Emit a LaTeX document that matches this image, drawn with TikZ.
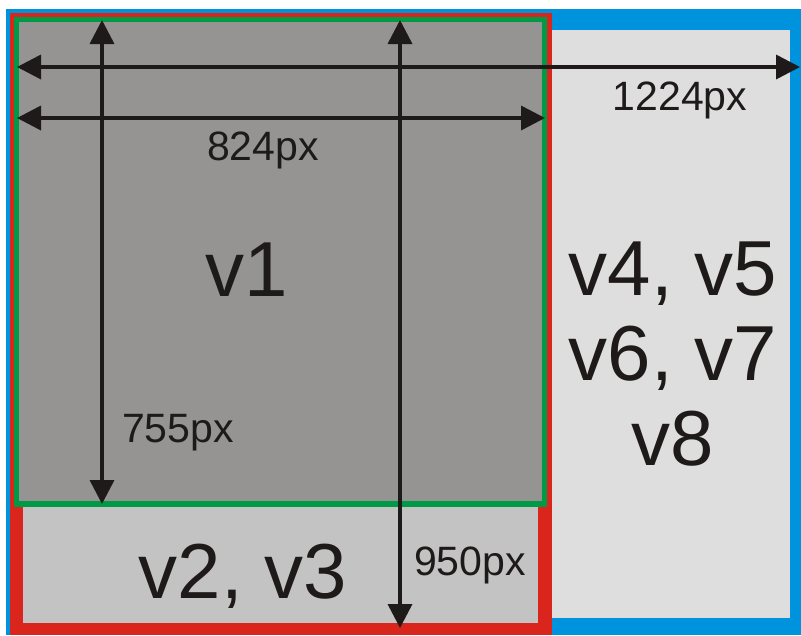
\documentclass[tikz,border=0pt]{standalone}
\usepackage{fontspec}
\setmainfont{Liberation Sans}
\usetikzlibrary{arrows.meta}
\definecolor{frameblue}{HTML}{0093DD}
\definecolor{framered}{HTML}{DA251D}
\definecolor{framegreen}{HTML}{009A46}
\definecolor{paneldark}{HTML}{959493}
\definecolor{panelmid}{HTML}{C3C3C3}
\definecolor{panellight}{HTML}{DEDEDE}
\definecolor{inkblack}{HTML}{1E1A19}

\begin{document}
\begin{tikzpicture}[
      x=1pt, y=-1pt,
      dimline/.style={<->, line width=3.6pt, draw=inkblack},
      dimlabel/.style={font=\fontsize{41}{48}\selectfont, text=inkblack, inner sep=0pt, anchor=base},
      biglabel/.style={font=\fontsize{78}{85}\selectfont, text=inkblack, inner sep=0pt, anchor=base, align=center},
      >={Triangle[length=24pt, width=24pt]},
    ]
    \useasboundingbox (0,0) rectangle (801,635);

    % blue frame and right panel
    \fill[frameblue] (6,9) rectangle (801,635);
    \fill[panellight] (552,30) rectangle (790,618);
    % red frame and lower panel
    \fill[framered] (10,13) rectangle (552,635);
    \fill[panelmid] (23,17) rectangle (538,623);
    % green frame and main panel
    \fill[framegreen] (14,17) rectangle (547,507);
    \fill[paneldark] (19,22) rectangle (542,501);

    \coordinate (fullL) at (17,67);
    \coordinate (fullR) at (800,67);
    \coordinate (mainL) at (17,118);
    \coordinate (mainR) at (545,118);
    \coordinate (mainT) at (102,20);
    \coordinate (mainB) at (102,504);
    \coordinate (fullT) at (400,20);
    \coordinate (fullB) at (400,628);

    \draw[dimline] (fullL) -- (fullR);
    \draw[dimline] (mainL) -- (mainR);
    \draw[dimline] (mainT) -- (mainB);
    \draw[dimline] (fullT) -- (fullB);

    \node[dimlabel] (wfull) at (680,110) {1224px};
    \node[dimlabel] (wmain) at (263,160) {824px};
    \node[dimlabel] (hmain) at (178,442) {755px};
    \node[dimlabel] (hfull) at (470,575) {950px};

    \node[biglabel] (v1) at (247,296) {v1};
    \node[biglabel] (v23) at (243,598) {v2, v3};
    \node[biglabel] (v48) at (673,465) {v4, v5\\v6, v7\\v8};
  \end{tikzpicture}
\end{document}
